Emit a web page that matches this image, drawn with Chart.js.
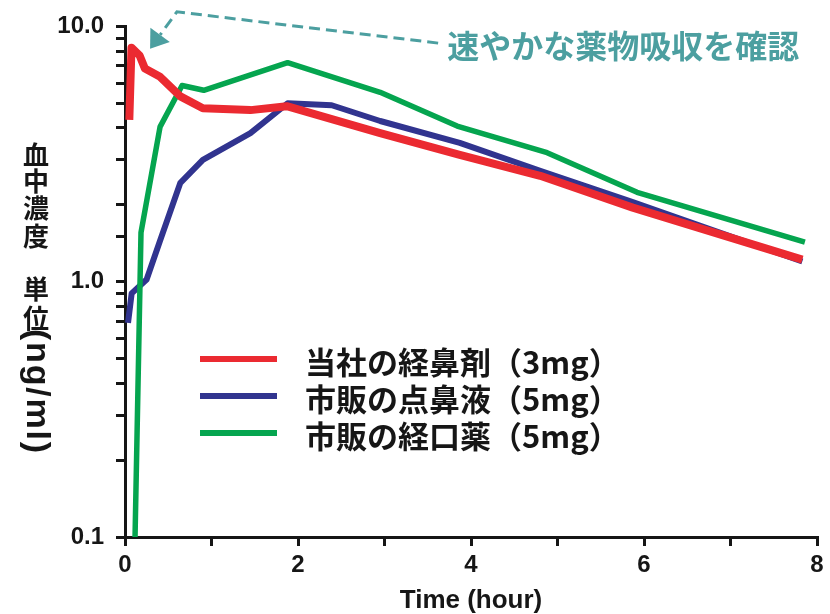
<!DOCTYPE html>
<html>
<head>
<meta charset="utf-8">
<script src="https://cdn.jsdelivr.net/npm/chart.js@4.4.1/dist/chart.umd.min.js"></script>
<style>
html,body{margin:0;padding:0;background:#fff;}
canvas{display:block;}
</style>
</head>
<body>
<canvas id="c" width="830" height="614"></canvas>
<script>
// ---- data ----
const seriesLabels = ['当社の経鼻剤（3mg）', '市販の点鼻液（5mg）', '市販の経口薬（5mg）'];

const redTimes  = [0.05, 0.075, 0.17, 0.23, 0.40, 0.64, 0.90, 1.45, 1.87, 2.95, 3.87, 4.80, 5.87, 7.83];
const redValues = [4.30, 8.25, 7.68, 6.84, 6.37, 5.32, 4.78, 4.70, 4.87, 3.82, 3.14, 2.60, 1.95, 1.22];

const blueTimes  = [0.035, 0.077, 0.25, 0.40, 0.64, 0.90, 1.45, 1.88, 2.39, 2.95, 3.87, 4.80, 5.87, 7.83];
const blueValues = [0.69, 0.90, 1.02, 1.43, 2.44, 3.00, 3.82, 5.00, 4.91, 4.26, 3.50, 2.72, 2.05, 1.20];

const greenTimes  = [0.116, 0.185, 0.405, 0.66, 0.91, 1.88, 2.95, 3.84, 4.88, 5.92, 7.86];
const greenValues = [0.10, 1.56, 4.04, 5.87, 5.62, 7.21, 5.52, 4.07, 3.20, 2.24, 1.43];

const xTickLabels = ['0', '2', '4', '6', '8'];
const yTickLabels = ['0.1', '1.0', '10.0'];
const xTitle = 'Time (hour)';
const yTitleChars = ['血', '中', '濃', '度', '単', '位'];
const yTitleLatin = '(ng/ml)';
const annotationText = '速やかな薬物吸収を確認';

// ---- styles ----
const RED = '#eb2a31', BLUE = '#31348f', GREEN = '#05a54f', TEAL = '#4c9fa0', INK = '#161616';

function pts(ts, vs) { return ts.map((t, i) => ({ x: t, y: vs[i] })); }

const yTitlePlugin = {
  id: 'yTitle',
  afterDraw(chart) {
    const ctx = chart.ctx;
    ctx.save();
    ctx.fillStyle = INK;
    ctx.font = 'bold 26px "Noto Sans CJK JP"';
    ctx.textAlign = 'center';
    ctx.textBaseline = 'middle';
    const ys = [155, 181, 208, 236, 289, 318];
    yTitleChars.forEach((ch, i) => ctx.fillText(ch, 36, ys[i]));
    // rotated latin part
    ctx.translate(36, 329);
    ctx.rotate(Math.PI / 2);
    ctx.font = 'bold 34px "Liberation Sans", Arial, sans-serif';
    ctx.textAlign = 'left';
    const chars = yTitleLatin.split('');
    const widths = chars.map(c => ctx.measureText(c).width);
    const total = widths.reduce((a, b) => a + b, 0);
    const gap = Math.max(0, (124 - total) / (chars.length - 1));
    let x = 0;
    chars.forEach((c, i) => { ctx.fillText(c, x, 0); x += widths[i] + gap; });
    ctx.restore();
  }
};

const legendPlugin = {
  id: 'customLegend',
  afterDraw(chart) {
    const ctx = chart.ctx;
    ctx.save();
    const rows = [359, 396, 433];
    chart.data.datasets.forEach((ds, i) => {
      ctx.strokeStyle = ds.borderColor;
      ctx.lineWidth = 6;
      ctx.lineCap = 'butt';
      ctx.beginPath();
      ctx.moveTo(200, rows[i]);
      ctx.lineTo(277, rows[i]);
      ctx.stroke();
      ctx.fillStyle = INK;
      ctx.font = 'bold 31px "Noto Sans CJK JP"';
      ctx.textAlign = 'left';
      ctx.textBaseline = 'middle';
      ctx.fillText(ds.label, 305, rows[i] + 3);
    });
    ctx.restore();
  }
};

const annotationPlugin = {
  id: 'annot',
  afterDraw(chart) {
    const ctx = chart.ctx;
    const xs = chart.scales.x, ys = chart.scales.y;
    const P = (t, v) => [xs.getPixelForValue(t), ys.getPixelForValue(v)];
    const start = P(3.62, 8.6);
    const corner = P(0.6, 11.4);
    const tip = P(0.29, 8.18);
    ctx.save();
    ctx.strokeStyle = TEAL;
    ctx.fillStyle = TEAL;
    ctx.lineWidth = 3;
    ctx.setLineDash([11, 6]);
    const dx = tip[0] - corner[0], dy = tip[1] - corner[1];
    const len = Math.hypot(dx, dy);
    const ux = dx / len, uy = dy / len;
    const headLen = 17, headHalf = 12;
    const base = [tip[0] - ux * headLen, tip[1] - uy * headLen];
    ctx.beginPath();
    ctx.moveTo(start[0], start[1]);
    ctx.lineTo(corner[0], corner[1]);
    ctx.lineTo(base[0], base[1]);
    ctx.stroke();
    ctx.setLineDash([]);
    ctx.beginPath();
    ctx.moveTo(tip[0], tip[1]);
    ctx.lineTo(base[0] - uy * headHalf, base[1] + ux * headHalf);
    ctx.lineTo(base[0] + uy * headHalf, base[1] - ux * headHalf);
    ctx.closePath();
    ctx.fill();
    ctx.font = 'bold 32px "Noto Sans CJK JP"';
    ctx.textAlign = 'left';
    ctx.textBaseline = 'middle';
    ctx.fillText(annotationText, start[0] + 9, start[1] + 3);
    ctx.restore();
  }
};

const tickFont = { family: '"Liberation Sans", Arial, sans-serif', size: 24, weight: 'bold' };

new Chart(document.getElementById('c'), {
  type: 'line',
  data: {
    datasets: [
      { label: seriesLabels[0], data: pts(redTimes, redValues), borderColor: RED, borderWidth: 8, order: 0 },
      { label: seriesLabels[1], data: pts(blueTimes, blueValues), borderColor: BLUE, borderWidth: 6, order: 2 },
      { label: seriesLabels[2], data: pts(greenTimes, greenValues), borderColor: GREEN, borderWidth: 5.5, order: 1 }
    ]
  },
  options: {
    responsive: false,
    animation: false,
    events: [],
    layout: { padding: { left: 0, right: 13, top: 22, bottom: 0 } },
    elements: {
      point: { radius: 0, hoverRadius: 0 },
      line: { tension: 0, fill: false, borderJoinStyle: 'round', borderCapStyle: 'butt' }
    },
    plugins: { legend: { display: false }, tooltip: { enabled: false }, title: { display: false } },
    scales: {
      x: {
        type: 'linear', min: 0, max: 8,
        ticks: {
          stepSize: 1, autoSkip: false, maxRotation: 0, padding: 5, color: INK, font: tickFont,
          callback: (v) => (v % 2 === 0 ? xTickLabels[v / 2] : '')
        },
        grid: { drawOnChartArea: false, drawTicks: true, tickLength: 9, color: INK, lineWidth: 3 },
        border: { display: true, color: INK, width: 3 },
        title: { display: true, text: xTitle, color: INK, padding: { top: 0, bottom: 0 },
                 font: { family: '"Liberation Sans", Arial, sans-serif', size: 26, weight: 'bold', lineHeight: 1 } },
        afterFit(s) { s.height = 77; }
      },
      y: {
        type: 'logarithmic', min: 0.1, max: 10,
        ticks: {
          autoSkip: false, padding: 12, color: INK, font: tickFont,
          callback: (v) => {
            const e = Math.log10(v);
            if (Math.abs(e - Math.round(e)) < 1e-9) return yTickLabels[Math.round(e) + 1];
            return '';
          }
        },
        grid: { drawOnChartArea: false, drawTicks: true, tickLength: 9, color: INK, lineWidth: 3 },
        border: { display: true, color: INK, width: 3 },
        afterFit(s) { s.width = 125; }
      }
    }
  },
  plugins: [yTitlePlugin, legendPlugin, annotationPlugin]
});
</script>
</body>
</html>
